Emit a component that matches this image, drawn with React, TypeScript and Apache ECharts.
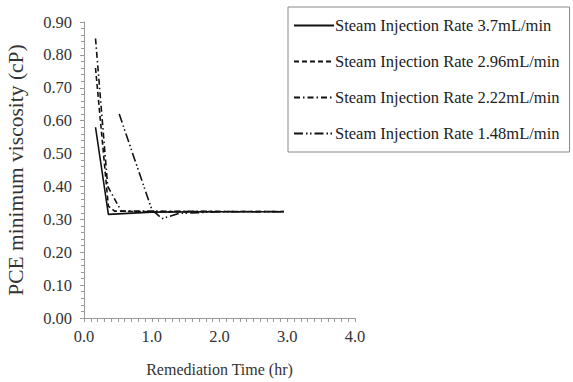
import React, { useEffect, useRef } from "react";
import * as echarts from "echarts";

const seriesNames = [
  "Steam Injection Rate 3.7mL/min",
  "Steam Injection Rate 2.96mL/min",
  "Steam Injection Rate 2.22mL/min",
  "Steam Injection Rate 1.48mL/min",
];

const rate370: [number, number][] = [
  [0.17, 0.58], [0.36, 0.315], [1.0, 0.322], [2.0, 0.323], [2.95, 0.323],
];
const rate296: [number, number][] = [
  [0.17, 0.76], [0.36, 0.34], [0.45, 0.325], [1.0, 0.323], [2.0, 0.324], [2.95, 0.324],
];
const rate222: [number, number][] = [
  [0.17, 0.85], [0.35, 0.4], [0.55, 0.325], [1.0, 0.325], [2.0, 0.324], [2.95, 0.324],
];
const rate148: [number, number][] = [
  [0.52, 0.62], [1.0, 0.33], [1.15, 0.302], [1.4, 0.318], [2.0, 0.323], [2.95, 0.323],
];

const dashTypes: (string | number[])[] = ["solid", [5, 3], [6, 3, 1.5, 3], [9, 3, 1.5, 2.5, 1.5, 3]];

const xTicks = { min: 0, max: 4, interval: 1 };
const yTicks = { min: 0, max: 0.9, interval: 0.1 };

const FONT = "Liberation Serif, Times New Roman, serif";

export default function App() {
  const ref = useRef<HTMLDivElement>(null);
  useEffect(() => {
    if (!ref.current) return;
    const chart = echarts.init(ref.current, undefined, { renderer: "svg" });
    const data = [rate370, rate296, rate222, rate148];
    chart.setOption({
      animation: false,
      backgroundColor: "#ffffff",
      textStyle: { fontFamily: FONT },
      grid: { left: 84, right: 218, top: 22, bottom: 58, containLabel: false },
      legend: {
        orient: "vertical",
        left: 288,
        top: 7,
        padding: [10, 10, 10, 5],
        itemGap: 19,
        itemWidth: 40,
        itemHeight: 14,
        borderColor: "#888",
        borderWidth: 1,
        itemStyle: { opacity: 0 },
        textStyle: { fontFamily: FONT, fontSize: 16.5, color: "#222", padding: [0, 0, 0, -4] },
        data: seriesNames,
      },
      xAxis: {
        type: "value",
        min: xTicks.min,
        max: xTicks.max,
        interval: xTicks.interval,
        name: "Remediation Time (hr)",
        nameLocation: "middle",
        nameGap: 43,
        nameTextStyle: { fontFamily: FONT, fontSize: 16, color: "#333" },
        axisLine: { lineStyle: { color: "#999", width: 1 } },
        axisTick: { show: true, length: 4, lineStyle: { color: "#999" } },
        minorTick: { show: true, splitNumber: 10, length: 4, lineStyle: { color: "#999" } },
        splitLine: { show: false },
        axisLabel: {
          fontFamily: FONT,
          fontSize: 16.5,
          color: "#333",
          margin: 10,
          formatter: (v: number) => v.toFixed(1),
        },
      },
      yAxis: {
        type: "value",
        min: yTicks.min,
        max: yTicks.max,
        interval: yTicks.interval,
        name: "PCE minimum viscosity (cP)",
        nameLocation: "middle",
        nameGap: 57,
        nameTextStyle: { fontFamily: FONT, fontSize: 21.5, color: "#333" },
        axisLine: { show: true, lineStyle: { color: "#999", width: 1 } },
        axisTick: { show: true, length: 4, lineStyle: { color: "#999" } },
        minorTick: { show: true, splitNumber: 5, length: 3, lineStyle: { color: "#999" } },
        splitLine: { show: false },
        axisLabel: {
          fontFamily: FONT,
          fontSize: 16.5,
          color: "#333",
          margin: 12,
          formatter: (v: number) => v.toFixed(2),
        },
      },
      series: seriesNames.map((name, i) => ({
        name,
        type: "line",
        data: data[i],
        symbol: "none",
        showSymbol: false,
        lineStyle: { color: "#111", width: 1.6, type: dashTypes[i] },
        itemStyle: { color: "#111" },
      })),
    });
    return () => chart.dispose();
  }, []);
  return (
    <div
      ref={ref}
      style={{ position: "fixed", left: 0, top: 0, width: 573, height: 382, overflow: "hidden" }}
    />
  );
}
